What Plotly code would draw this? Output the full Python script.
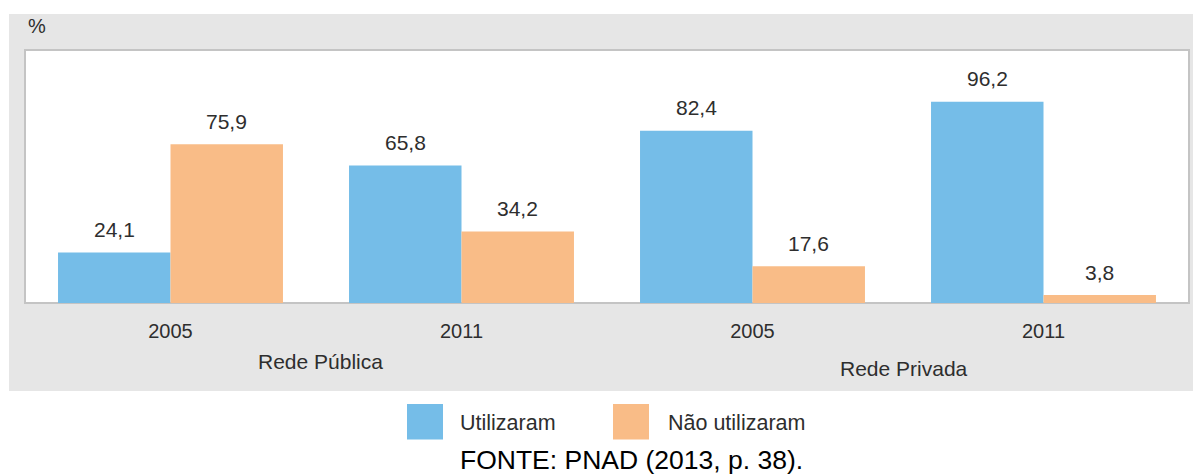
import plotly.graph_objects as go

# ---- data ----
groups = ["Rede Pública", "Rede Pública", "Rede Privada", "Rede Privada"]
years = ["2005", "2011", "2005", "2011"]
utilizaram = [24.1, 65.8, 82.4, 96.2]
nao_utilizaram = [75.9, 34.2, 17.6, 3.8]
series_names = ["Utilizaram", "Não utilizaram"]
source_text = "FONTE: PNAD (2013, p. 38)."

# ---- style ----
W, H = 1193, 474
ML, MR, MT, MB = 25, 4, 50, 171
PW, PH = W - ML - MR, H - MT - MB
BLUE = "#75BDE8"
ORANGE = "#F9BC87"
PANEL = "#E6E6E6"
TXT = "#2E2E2E"
FONT = "Liberation Sans, Arial, sans-serif"
BARGAP = 0.227


def px_x(px):
    return (px - ML) / PW


def px_y(py):
    return (H - MB - py) / PH


keys = [f"{g} {y}" for g, y in zip(groups, years)]

fig = go.Figure()
for name, vals, col in [(series_names[0], utilizaram, BLUE),
                        (series_names[1], nao_utilizaram, ORANGE)]:
    fig.add_trace(go.Bar(x=keys, y=vals, name=name, marker_color=col,
                         marker_line_width=0, showlegend=False,
                         hoverinfo="skip"))

# value labels above bars
cat_px = PW / len(keys)
bar_px = cat_px * (1 - BARGAP) / 2
annotations = []
for si, vals in enumerate([utilizaram, nao_utilizaram]):
    shift = (-0.5 if si == 0 else 0.5) * bar_px
    for k, v in zip(keys, vals):
        annotations.append(dict(x=k, y=v, xref="x", yref="y",
                                text=f"{v:.1f}".replace(".", ","),
                                showarrow=False, xshift=shift, yshift=23,
                                yanchor="middle",
                                font=dict(size=21, color=TXT, family=FONT)))

# group labels
seen = []
for i, g in enumerate(groups):
    if g in seen:
        continue
    seen.append(g)
    idx = [j for j, gg in enumerate(groups) if gg == g]
    center = sum(idx) / len(idx)
    annotations.append(dict(x=center, y=px_y(361 if len(seen) == 1 else 368),
                            xref="x", yref="paper", text=g, showarrow=False,
                            xshift=4 if len(seen) == 1 else 6,
                            yanchor="middle",
                            font=dict(size=21, color=TXT, family=FONT)))

# % label
annotations.append(dict(x=px_x(26), y=px_y(26), xref="paper", yref="paper",
                        text="%", showarrow=False, xanchor="left",
                        yanchor="middle",
                        font=dict(size=20, color=TXT, family=FONT)))

# legend texts
annotations.append(dict(x=px_x(458), y=px_y(423), xref="paper", yref="paper",
                        text=series_names[0], showarrow=False, xanchor="left",
                        yanchor="middle",
                        font=dict(size=21.5, color=TXT, family=FONT)))
annotations.append(dict(x=px_x(665.5), y=px_y(423), xref="paper", yref="paper",
                        text=series_names[1], showarrow=False, xanchor="left",
                        yanchor="middle",
                        font=dict(size=21.5, color=TXT, family=FONT)))
# source
annotations.append(dict(x=px_x(631), y=px_y(460), xref="paper", yref="paper",
                        text=source_text, showarrow=False, xanchor="center",
                        yanchor="middle",
                        font=dict(size=26.5, color="#000000", family=FONT)))

shapes = [
    # gray panel
    dict(type="rect", xref="paper", yref="paper", layer="below",
         x0=px_x(9), x1=px_x(1193), y0=px_y(391), y1=px_y(14),
         fillcolor=PANEL, line_width=0),
    # white plot area with border
    dict(type="rect", xref="paper", yref="paper", layer="below",
         x0=0, x1=1, y0=0, y1=1, fillcolor="white",
         line=dict(color="#C4C4C4", width=2)),
    # legend swatches
    dict(type="rect", xref="paper", yref="paper",
         x0=px_x(407), x1=px_x(443), y0=px_y(439.5), y1=px_y(404),
         fillcolor=BLUE, line_width=0),
    dict(type="rect", xref="paper", yref="paper",
         x0=px_x(613), x1=px_x(649), y0=px_y(439.5), y1=px_y(404),
         fillcolor=ORANGE, line_width=0),
]

fig.update_layout(
    width=W, height=H,
    margin=dict(l=ML, r=MR, t=MT, b=MB, pad=0),
    paper_bgcolor="white", plot_bgcolor="rgba(0,0,0,0)",
    barmode="group", bargap=BARGAP, bargroupgap=0,
    separators=",.",
    showlegend=False,
    hovermode=False,
    annotations=annotations, shapes=shapes,
    font=dict(family=FONT, size=20, color=TXT),
)
fig.update_xaxes(type="category", tickvals=keys, ticktext=years,
                 ticks="outside", ticklen=10, tickcolor="rgba(0,0,0,0)",
                 showgrid=False, zeroline=False, showline=False,
                 tickfont=dict(size=20, color=TXT, family=FONT),
                 range=[-0.5, len(keys) - 0.5], fixedrange=True)
fig.update_yaxes(range=[0, 121], visible=False, showgrid=False,
                 zeroline=False, fixedrange=True)

fig.write_html(
    "out.html",
    config={"displayModeBar": False, "staticPlot": True},
    post_script="document.body.style.margin='0px';document.body.style.overflow='hidden';",
)
